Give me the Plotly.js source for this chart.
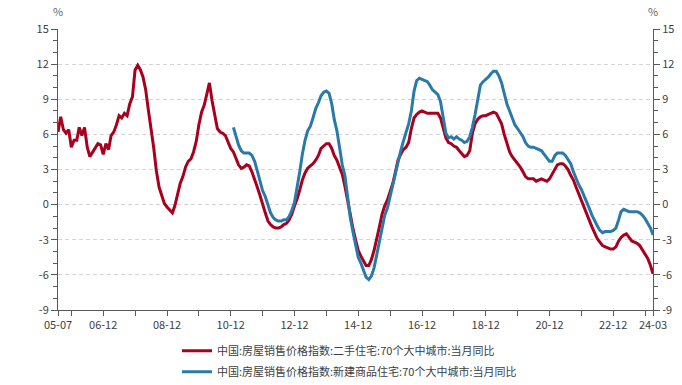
<!DOCTYPE html>
<html>
<head>
<meta charset="utf-8">
<script src="https://cdn.plot.ly/plotly-3.0.1.min.js"></script>
<style>html,body{margin:0;padding:0;background:#fff;}#chart{width:682px;height:385px;}</style>
</head>
<body>
<div id="chart"></div>
<script>
// Series names
const redName = '中国:房屋销售价格指数:二手住宅:70个大中城市:当月同比';
const blueName = '中国:房屋销售价格指数:新建商品住宅:70个大中城市:当月同比';

// Second-hand housing YoY (%), monthly from 2005-07
const redStart = [2005, 7];
const redValues = [
  6.2, 7.5, 6.4, 6.1, 6.4, 4.9,
  5.5, 5.5, 6.6, 5.9, 6.6, 4.9, 4.1, 4.5, 4.9, 5.2, 5.1, 4.3,
  5.2, 4.7, 5.9, 6.2, 6.8, 7.6, 7.4, 7.8, 7.6, 8.6, 9.2, 11.5,
  11.9, 11.5, 10.9, 9.8, 8.1, 6.6, 4.9, 2.9, 1.5, 0.8, 0.1, -0.2,
  -0.5, -0.7, -0.1, 0.8, 1.8, 2.4, 3.2, 3.7, 3.9, 4.5, 5.4, 6.8,
  7.9, 8.5, 9.3, 10.4, 8.9, 7.5, 6.5, 6.2, 6.1, 5.9, 5.4, 4.8,
  4.5, 4.0, 3.4, 3.1, 3.2, 3.4, 3.3, 2.8, 2.2, 1.5, 0.8, 0.0,
  -0.7, -1.4, -1.7, -1.9, -2.0, -2.0, -1.9, -1.7, -1.6, -1.3, -0.8, -0.1,
  0.5, 1.3, 2.1, 2.7, 3.1, 3.3, 3.5, 3.8, 4.2, 4.8, 5.0, 5.2,
  5.2, 4.8, 4.2, 3.8, 3.2, 2.6, 1.6, 0.3, -0.9, -2.0, -3.0, -3.9,
  -4.4, -4.9, -5.2, -5.2, -4.7, -3.9, -3.0, -1.9, -0.8, -0.1, 0.4, 1.0,
  1.8, 2.8, 3.8, 4.3, 4.7, 4.9, 5.3, 6.5, 7.4, 7.7, 7.9, 8.0,
  7.9, 7.8, 7.8, 7.8, 7.8, 7.8, 7.4, 6.5, 5.7, 5.3, 5.2, 5.0,
  4.9, 4.6, 4.4, 4.1, 4.2, 4.6, 6.1, 6.9, 7.3, 7.5, 7.6, 7.6,
  7.7, 7.8, 7.9, 7.8, 7.4, 6.9, 6.0, 5.2, 4.5, 4.1, 3.8, 3.5,
  3.2, 2.8, 2.4, 2.2, 2.2, 2.2, 2.0, 2.1, 2.2, 2.1, 2.0, 2.2,
  2.6, 3.1, 3.4, 3.5, 3.5, 3.3, 3.0, 2.5, 2.1, 1.5, 0.9, 0.3,
  -0.2, -0.8, -1.3, -1.9, -2.4, -2.9, -3.2, -3.5, -3.6, -3.7, -3.8, -3.8,
  -3.6, -3.1, -2.8, -2.6, -2.5, -2.8, -3.1, -3.2, -3.3, -3.5, -3.9, -4.3,
  -4.6, -5.2, -5.9
];

// New commercial housing YoY (%), monthly from 2011-01
const blueStart = [2011, 1];
const blueValues = [
  6.6, 5.8, 5.1, 4.6, 4.4, 4.4, 4.4, 4.2, 3.7, 2.9, 2.1, 1.2,
  0.7, -0.1, -0.7, -1.1, -1.3, -1.4, -1.4, -1.3, -1.3, -1.0, -0.5, 0.2,
  1.4, 2.9, 4.3, 5.5, 6.3, 6.7, 7.4, 8.2, 8.7, 9.3, 9.6, 9.7,
  9.5, 8.6, 7.3, 6.3, 4.9, 3.4, 2.5, 0.5, -1.1, -2.3, -3.5, -4.5,
  -5.0, -5.7, -6.2, -6.4, -6.1, -5.4, -4.3, -2.9, -1.8, -0.9, -0.3, 0.7,
  1.5, 2.7, 3.7, 4.6, 5.4, 6.2, 6.9, 8.0, 9.7, 10.6, 10.8, 10.7,
  10.6, 10.5, 10.2, 9.8, 9.6, 9.4, 8.8, 7.3, 6.1, 5.7, 5.8, 5.6,
  5.8, 5.6, 5.5, 5.3, 5.4, 5.8, 6.6, 7.7, 9.1, 10.2, 10.5, 10.7,
  10.9, 11.2, 11.4, 11.4, 11.0, 10.4, 9.5, 8.6, 8.0, 7.4, 6.8, 6.5,
  6.2, 5.8, 5.3, 5.0, 4.9, 4.9, 4.8, 4.7, 4.6, 4.3, 4.0, 3.7,
  3.7, 4.2, 4.4, 4.4, 4.4, 4.2, 3.9, 3.5, 2.8, 2.2, 1.7, 1.3,
  0.8, 0.3, -0.3, -0.9, -1.4, -1.8, -2.2, -2.4, -2.3, -2.3, -2.3, -2.2,
  -2.0, -1.3, -0.6, -0.4, -0.5, -0.6, -0.6, -0.6, -0.6, -0.7, -0.9, -1.2,
  -1.6, -2.0, -2.6
];

// Axis ticks
const xTickVals = ['2005-07','2005-12','2006-12','2007-12','2008-12','2009-12','2010-12','2011-12',
  '2012-12','2013-12','2014-12','2015-12','2016-12','2017-12','2018-12','2019-12','2020-12',
  '2021-12','2022-12','2023-12','2024-03'];
const xTickText = ['05-07','','06-12','','08-12','','10-12','','12-12','','14-12','','16-12','',
  '18-12','','20-12','','22-12','','24-03'];
const yTickVals = [-9, -6, -3, 0, 3, 6, 9, 12, 15];
const yTickText = ['-9', '-6', '-3', '0', '3', '6', '9', '12', '15'];
const xRange = ['2005-07-01', '2024-03-01'];
const yRange = [-9, 15];

function monthDates(start, n) {
  const out = [];
  let y = start[0], m = start[1];
  for (let i = 0; i < n; i++) {
    out.push(y + '-' + String(m).padStart(2, '0') + '-01');
    m++; if (m > 12) { m = 1; y++; }
  }
  return out;
}

const axisColor = '#595959';
const textColor = '#404040';
const fontFam = '"Noto Sans CJK SC", "Noto Sans", sans-serif';

const traces = [
  {
    x: monthDates(redStart, redValues.length), y: redValues, name: redName, legendgroup: 'a',
    type: 'scatter', mode: 'lines', line: {color: '#a8001e', width: 3}, yaxis: 'y'
  },
  {
    x: monthDates(blueStart, blueValues.length), y: blueValues, name: blueName, legendgroup: 'b',
    type: 'scatter', mode: 'lines', line: {color: '#2a7aa9', width: 3}, yaxis: 'y2'
  }
];

const yCommon = {
  range: yRange, tickmode: 'array', tickvals: yTickVals, ticktext: yTickText,
  ticks: 'outside', ticklen: 6, tickwidth: 1, tickcolor: axisColor,
  showline: true, linecolor: axisColor, linewidth: 1,
  tickfont: {family: fontFam, size: 11, color: textColor},
  zeroline: false, fixedrange: true,
  minor: {tickmode: 'linear', tick0: 0, dtick: 1, ticks: 'outside', ticklen: 4, tickcolor: axisColor, showgrid: false}
};

const layout = {
  width: 682, height: 385,
  margin: {l: 58, r: 29, t: 29, b: 75, autoexpand: false},
  paper_bgcolor: '#ffffff', plot_bgcolor: '#ffffff',
  font: {family: fontFam, size: 11, color: textColor},
  showlegend: true,
  legend: {
    orientation: 'v', x: 0.2, xanchor: 'left', y: -0.093, yanchor: 'top',
    font: {family: fontFam, size: 11, color: textColor},
    bgcolor: 'rgba(0,0,0,0)', traceorder: 'grouped', tracegroupgap: 2
  },
  xaxis: {
    type: 'date', range: xRange, tickmode: 'array', tickvals: xTickVals, ticktext: xTickText,
    ticks: 'outside', ticklen: 5, tickcolor: axisColor, showline: true, linecolor: axisColor,
    showgrid: false, zeroline: false, tickangle: 0,
    tickfont: {family: fontFam, size: 11, color: textColor}
  },
  yaxis: Object.assign({}, yCommon, {
    side: 'left', showgrid: true, gridcolor: '#d4d4d4', griddash: '4px,3px', gridwidth: 1
  }),
  yaxis2: Object.assign({}, yCommon, {
    side: 'right', overlaying: 'y', showgrid: false
  }),
  annotations: [
    {text: '%', xref: 'paper', yref: 'paper', x: 0, y: 1, xanchor: 'center', yanchor: 'middle',
     yshift: 18, showarrow: false, font: {family: fontFam, size: 11, color: '#666'}},
    {text: '%', xref: 'paper', yref: 'paper', x: 1, y: 1, xanchor: 'center', yanchor: 'middle',
     yshift: 18, showarrow: false, font: {family: fontFam, size: 11, color: '#666'}}
  ]
};

Plotly.newPlot('chart', traces, layout, {staticPlot: true, displayModeBar: false});
</script>
</body>
</html>
